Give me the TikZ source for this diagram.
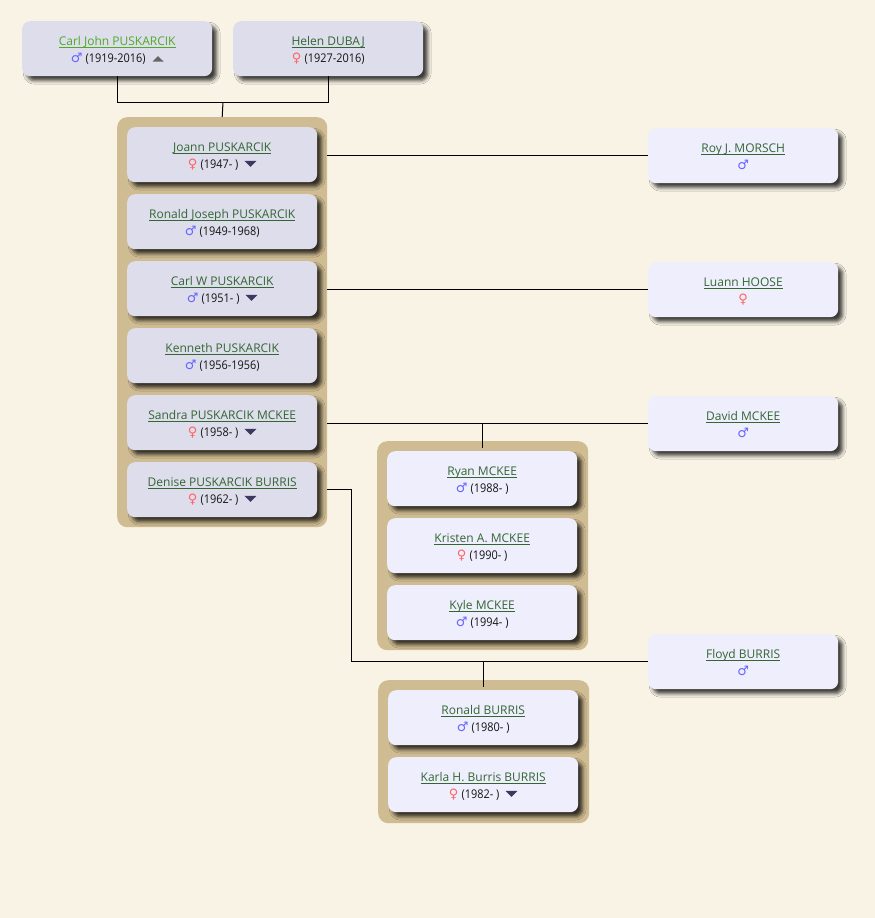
\documentclass[tikz,border=0pt]{standalone}
\usepackage{fontspec}
\setmainfont{Open Sans}
\newfontfamily\symf{DejaVu Sans}
\newfontfamily\datef[FakeStretch=0.91]{Open Sans}
\usetikzlibrary{shadows.blur}
\definecolor{bgc}{RGB}{249,243,230}
\definecolor{grpc}{RGB}{208,188,146}
\definecolor{nodeA}{RGB}{221,221,235}
\definecolor{nodeB}{RGB}{238,238,252}
\definecolor{namec}{RGB}{51,102,51}
\definecolor{namehl}{RGB}{80,170,40}
\definecolor{malec}{RGB}{102,102,255}
\definecolor{femc}{RGB}{255,102,102}
\definecolor{tric}{RGB}{58,58,96}
\definecolor{triup}{RGB}{102,102,102}
\definecolor{datec}{RGB}{20,20,20}
\newsavebox{\ulbox}
\newcommand{\myul}[1]{\rule{0pt}{15pt}\sbox{\ulbox}{#1}\rlap{\rule[-2.4pt]{\wd\ulbox}{0.8pt}}\usebox{\ulbox}}
\newcommand{\nm}[1]{{\color{namec}\myul{#1}}}
\newcommand{\nmhl}[1]{{\color{namehl}\myul{#1}}}
\newcommand{\male}{\rule[-5pt]{0pt}{5pt}{\symf\fontsize{13}{17}\selectfont\color{malec}♂}}
\newcommand{\fem}{\rule[-5pt]{0pt}{5pt}{\symf\fontsize{13}{17}\selectfont\color{femc}♀}}
\newcommand{\tdown}{\hspace{6pt}\tikz[baseline=0pt,sharp corners]\fill[tric] (0pt,7.3pt) -- (12pt,7.3pt) -- (6pt,1.3pt) -- cycle;}
\newcommand{\tup}{\hspace{7pt}\tikz[baseline=0pt,sharp corners]\fill[triup] (0pt,0.7pt) -- (11pt,0.7pt) -- (5.5pt,6pt) -- cycle;}
\newcommand{\dt}[1]{{\datef\color{datec}#1}}
\begin{document}
\begin{tikzpicture}[x=1pt,y=-1pt,
  person/.style={rectangle, rounded corners=8pt, minimum width=190pt, minimum height=55pt,
    inner sep=0pt, anchor=north west, align=center, font=\fontsize{12}{17}\selectfont,
    blur shadow={shadow xshift=4.5pt, shadow yshift=-4.5pt, shadow blur radius=3.5pt, shadow opacity=75}},
  pa/.style={person, fill=nodeA},
  pb/.style={person, fill=nodeB},
  grp/.style={rectangle, rounded corners=10pt, fill=grpc, inner sep=0pt, anchor=north west},
  conn/.style={draw=black, line width=1pt}]
\useasboundingbox (0,0) rectangle (875,918);
\fill[bgc] (0,0) rectangle (875,918);

% group boxes
\node[grp, minimum width=210pt, minimum height=410pt] (g1) at (117,117) {};
\node[grp, minimum width=211pt, minimum height=209pt] (g2) at (377,441) {};
\node[grp, minimum width=211pt, minimum height=143pt] (g3) at (378,680) {};

% connectors
\coordinate (pj) at (223,102);
\draw[conn] (g1.north) -- (pj);
\coordinate (dk) at (351,490);

% parents
\node[pa] (cjp) at (22,21) {\nmhl{Carl John PUSKARCIK}\\\male\ \dt{(1919-2016)}\tup};
\node[pa] (hd) at (233,21) {\nm{Helen DUBAJ}\\\fem\ \dt{(1927-2016)}};

% children
\node[pa] (joann) at (127,127) {\nm{Joann PUSKARCIK}\\\fem\ \dt{(1947- )}\tdown};
\node[pa] (ronj) at (127,194) {\nm{Ronald Joseph PUSKARCIK}\\\male\ \dt{(1949-1968)}};
\node[pa] (carlw) at (127,261) {\nm{Carl W PUSKARCIK}\\\male\ \dt{(1951- )}\tdown};
\node[pa] (kenneth) at (127,328) {\nm{Kenneth PUSKARCIK}\\\male\ \dt{(1956-1956)}};
\node[pa] (sandra) at (127,395) {\nm{Sandra PUSKARCIK MCKEE}\\\fem\ \dt{(1958- )}\tdown};
\node[pa] (denise) at (127,462) {\nm{Denise PUSKARCIK BURRIS}\\\fem\ \dt{(1962- )}\tdown};

% spouses
\node[pb] (roy) at (648,128) {\nm{Roy J. MORSCH}\\\male};
\node[pb] (luann) at (648,262) {\nm{Luann HOOSE}\\\fem};
\node[pb] (david) at (648,396) {\nm{David MCKEE}\\\male};
\node[pb] (floyd) at (648,634) {\nm{Floyd BURRIS}\\\male};

% grandchildren
\node[pb] (ryan) at (387,451) {\nm{Ryan MCKEE}\\\male\ \dt{(1988- )}};
\node[pb] (kristen) at (387,518) {\nm{Kristen A. MCKEE}\\\fem\ \dt{(1990- )}};
\node[pb] (kyle) at (387,585) {\nm{Kyle MCKEE}\\\male\ \dt{(1994- )}};
\node[pb] (ronb) at (388,690) {\nm{Ronald BURRIS}\\\male\ \dt{(1980- )}};
\node[pb] (karla) at (388,757) {\nm{Karla H. Burris BURRIS}\\\fem\ \dt{(1982- )}\tdown};

\draw[conn] (cjp.south) |- (pj);
\draw[conn] (hd.south) |- (pj);
\draw[conn] (roy.west) -- (roy.west -| g1.east);
\draw[conn] (luann.west) -- (luann.west -| g1.east);
\draw[conn] (david.west) -- (david.west -| g1.east);
\draw[conn] (david.west -| g2.north) -- ([yshift=-7pt]g2.north);
\draw[conn] (denise.east -| g1.east) -| (dk |- floyd.west) -- (floyd.west);
\draw[conn] (floyd.west -| g3.north) -- ([yshift=-7pt]g3.north);
\end{tikzpicture}
\end{document}
